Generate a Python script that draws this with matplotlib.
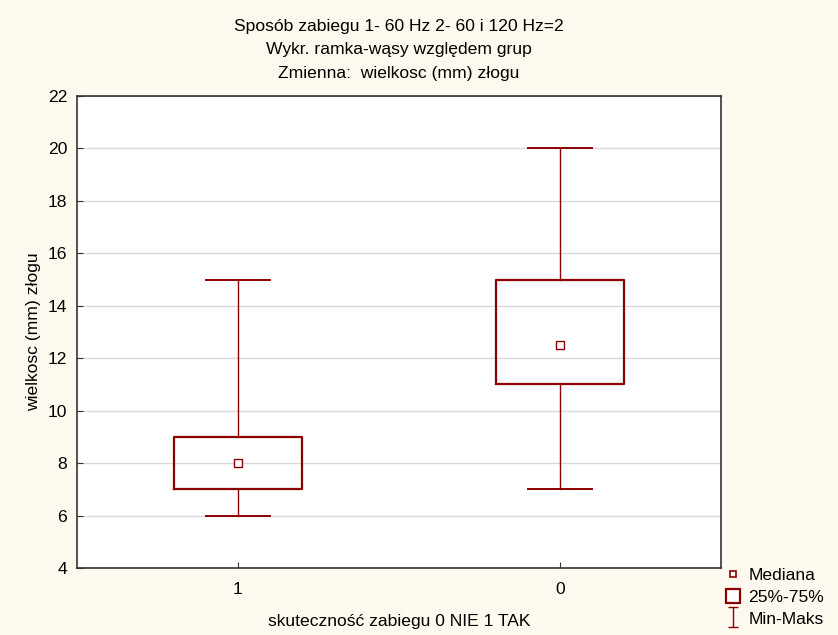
import matplotlib
matplotlib.use("Agg")
import matplotlib.pyplot as plt
from matplotlib.path import Path
from matplotlib.lines import Line2D

plt.rcParams['font.family'] = ['Liberation Sans', 'DejaVu Sans']

groups = ["1", "0"]
mins = [6, 7]
q1s = [7, 11]
medians = [8, 12.5]
q3s = [9, 15]
maxs = [15, 20]

title = "Sposób zabiegu 1- 60 Hz 2- 60 i 120 Hz=2\nWykr. ramka-wąsy względem grup\nZmienna:  wielkosc (mm) złogu"
xlabel = "skuteczność zabiegu 0 NIE 1 TAK"
ylabel = "wielkosc (mm) złogu"
legend_labels = ["Mediana", "25%-75%", "Min-Maks"]

color = "#8B0000"
bg = "#FEF9EF"
fs = 12.6

fig = plt.figure(figsize=(8.38, 6.35), dpi=100, facecolor=bg)
ax = fig.add_axes([77/838, 1 - 568/635, 644/838, 472/635])
ax.set_facecolor("white")

positions = list(range(1, len(groups) + 1))
stats = []
for g, lo, a, m, b, hi in zip(groups, mins, q1s, medians, q3s, maxs):
    stats.append(dict(label=g, whislo=lo, q1=a, med=m, q3=b, whishi=hi, fliers=[]))

ax.bxp(stats, positions=positions, widths=0.4, showfliers=False,
       boxprops=dict(color=color, linewidth=1.6),
       whiskerprops=dict(color=color, linewidth=1.0),
       capprops=dict(color=color, linewidth=1.4),
       medianprops=dict(linestyle='none'),
       capwidths=0.2, zorder=3)
ax.plot(positions, medians, linestyle='none', marker='s', markersize=6,
        markerfacecolor='white', markeredgecolor=color, markeredgewidth=1.0, zorder=4)

ax.set_xlim(0.5, 2.5)
ax.set_ylim(4, 22)
ax.set_yticks(range(4, 23, 2))
ax.set_xticks(positions)
ax.set_xticklabels(groups)
ax.yaxis.grid(True, color="#D9D9D9", linewidth=1.0, zorder=0)
ax.set_axisbelow(True)
ax.tick_params(direction='in', length=4, labelsize=fs, colors='#333333', labelcolor='black')
ax.tick_params(axis='x', pad=10)
ax.tick_params(axis='y', pad=7)
for s in ax.spines.values():
    s.set_color('#333333')
    s.set_linewidth(1.2)

ax.set_title(title, fontsize=fs, linespacing=1.72, pad=13)
ax.set_xlabel(xlabel, fontsize=fs, labelpad=12)
ax.set_ylabel(ylabel, fontsize=fs, labelpad=5)

ibeam = Path([(-0.5, 1), (0.5, 1), (0, 1), (0, -1), (-0.5, -1), (0.5, -1)],
             [Path.MOVETO, Path.LINETO, Path.MOVETO, Path.LINETO, Path.MOVETO, Path.LINETO])
handles = [
    Line2D([], [], linestyle='none', marker='s', markersize=5, markerfacecolor='white',
           markeredgecolor=color, markeredgewidth=1.2),
    Line2D([], [], linestyle='none', marker='s', markersize=10.5, markerfacecolor='white',
           markeredgecolor=color, markeredgewidth=1.6),
    Line2D([], [], linestyle='none', marker=ibeam, markersize=14, markerfacecolor='none',
           markeredgecolor=color, markeredgewidth=1.0),
]
fig.legend(handles, legend_labels, loc='upper left', bbox_to_anchor=(714/838, 1 - 556/635),
           frameon=False, fontsize=fs, handlelength=0.8, handletextpad=0.45,
           labelspacing=0.36, borderpad=0.2)

fig.savefig("out.png", dpi=100, facecolor=bg)
